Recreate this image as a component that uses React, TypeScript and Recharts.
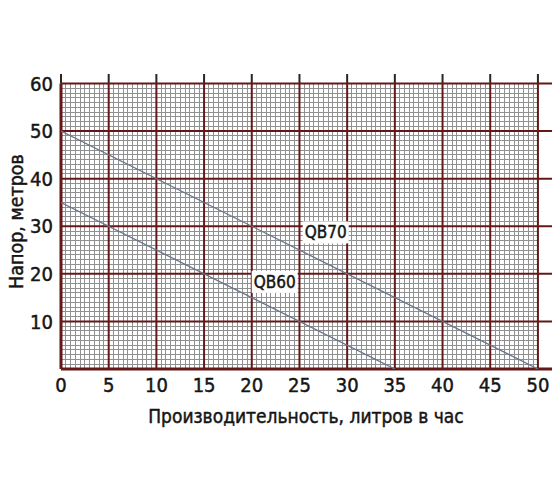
import React from "react";
import { LineChart, Line, XAxis, YAxis, ReferenceLine, ReferenceDot } from "recharts";

// Characteristic curves (flow, head)
const qb70Flow = [0, 50];
const qb70Head = [50, 0];
const qb60Flow = [0, 35];
const qb60Head = [35, 0];

const seriesNames = ["QB70", "QB60"];
// label anchors in data units (flow, head)
const labelFlow = [27.75, 22.4];
const labelHead = [28.7, 18.3];

const xTicks = [0, 5, 10, 15, 20, 25, 30, 35, 40, 45, 50];
const yTicks = [10, 20, 30, 40, 50, 60];
const majorY = [0, 10, 20, 30, 40, 50, 60];

const xTitle = "Производительность, литров в час";
const yTitle = "Напор, метров";

const X_MAX = 50;
const Y_MAX = 60;
const X_DOMAIN_MAX = 52;
const Y_DOMAIN_MAX = 62;

const minorX: number[] = [];
for (let i = 1; i < X_MAX * 2; i++) if (i % 10 !== 0) minorX.push(i / 2);
const minorY: number[] = [];
for (let i = 1; i < Y_MAX; i++) if (i % 10 !== 0) minorY.push(i);

const qb70 = qb70Flow.map((q, i) => ({ q, h: qb70Head[i] }));
const qb60 = qb60Flow.map((q, i) => ({ q, h: qb60Head[i] }));

const FONT = '"DejaVu Sans Condensed", "Liberation Sans Narrow", sans-serif';
const MAJOR = "#641818";
const MAJOR_TOP = "#2e2222";
const MINOR = "#909090";
const CURVE = "#66768a";
const TEXT = "#151515";

const textStyle = (size: number) => ({
  fontFamily: FONT,
  fontSize: size,
  fill: TEXT,
  stroke: TEXT,
  strokeWidth: 0.45,
});

const LabelShape = (name: string) => (props: any) => {
  const { cx, cy } = props;
  const w = 46;
  const h = 22;
  return (
    <g>
      <rect x={cx - w / 2} y={cy - h / 2} width={w} height={h} fill="#ffffff" />
      <text
        x={cx}
        y={cy}
        textAnchor="middle"
        dominantBaseline="central"
        style={textStyle(17)}
      >
        {name}
      </text>
    </g>
  );
};

export default function App() {
  return (
    <div style={{ width: 552, height: 496, background: "#fff" }}>
      <LineChart
        width={552}
        height={496}
        margin={{ top: 66, right: 3, left: 3, bottom: 95 }}
      >
        <XAxis
          type="number"
          dataKey="q"
          domain={[0, X_DOMAIN_MAX]}
          ticks={xTicks}
          axisLine={false}
          tickLine={false}
          tickSize={0}
          tickMargin={9}
          height={40}
          allowDataOverflow
          tick={textStyle(20)}
          label={{
            value: xTitle,
            position: "bottom",
            offset: 1,
            dx: -3,
            style: textStyle(19),
          }}
        />
        <YAxis
          type="number"
          dataKey="h"
          domain={[0, Y_DOMAIN_MAX]}
          ticks={yTicks}
          axisLine={false}
          tickLine={false}
          tickSize={0}
          tickMargin={8}
          width={50}
          allowDataOverflow
          tick={textStyle(20)}
          label={{
            value: yTitle,
            position: "center",
            angle: -90,
            dx: -20,
            style: { ...textStyle(19.5), textAnchor: "middle" },
          }}
        />
        {minorX.map((v) => (
          <ReferenceLine
            key={`mx${v}`}
            segment={[{ x: v, y: 0 }, { x: v, y: Y_MAX }]}
            stroke={MINOR}
            strokeWidth={1}
            shapeRendering="crispEdges"
          />
        ))}
        {minorY.map((v) => (
          <ReferenceLine
            key={`my${v}`}
            segment={[{ x: 0, y: v }, { x: X_MAX, y: v }]}
            stroke={MINOR}
            strokeWidth={1}
            shapeRendering="crispEdges"
          />
        ))}
        {xTicks.map((v) => (
          <ReferenceLine
            key={`Vt${v}`}
            segment={[{ x: v, y: Y_MAX }, { x: v, y: Y_DOMAIN_MAX }]}
            stroke={MAJOR_TOP}
            strokeWidth={2}
          />
        ))}
        {xTicks.map((v) => (
          <ReferenceLine
            key={`V${v}`}
            segment={[{ x: v, y: 0 }, { x: v, y: Y_MAX }]}
            stroke={MAJOR}
            strokeWidth={v === 0 ? 3 : 2}
          />
        ))}
        {majorY.map((v) => (
          <ReferenceLine
            key={`H${v}`}
            segment={[{ x: 0, y: v }, { x: X_DOMAIN_MAX, y: v }]}
            stroke={MAJOR}
            strokeWidth={v === 0 ? 3 : 2}
          />
        ))}
        <Line
          data={qb70}
          dataKey="h"
          stroke={CURVE}
          strokeWidth={1.3}
          dot={false}
          isAnimationActive={false}
        />
        <Line
          data={qb60}
          dataKey="h"
          stroke={CURVE}
          strokeWidth={1.3}
          dot={false}
          isAnimationActive={false}
        />
        {seriesNames.map((n, i) => (
          <ReferenceDot
            key={n}
            x={labelFlow[i]}
            y={labelHead[i]}
            r={0}
            shape={LabelShape(n)}
          />
        ))}
      </LineChart>
    </div>
  );
}
